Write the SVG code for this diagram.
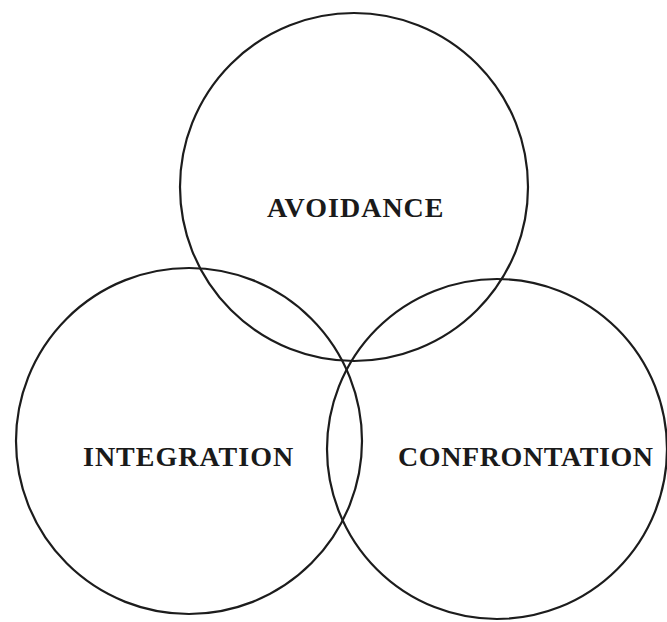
<svg xmlns="http://www.w3.org/2000/svg" width="667" height="622" viewBox="0 0 667 622">
  <style>
    .ring { fill: none; stroke: #1c1c1c; stroke-width: 2.2; }
    .label { font-family: "Liberation Serif", "Times New Roman", serif; font-weight: bold; font-size: 28px; letter-spacing: 1px; fill: #1a1a1a; text-anchor: start; }
  </style>
  <rect width="667" height="622" fill="#ffffff"/>
  <g id="avoidance">
    <circle class="ring" cx="354" cy="187" r="174"/>
    <text class="label" x="267" y="217">AVOIDANCE</text>
  </g>
  <g id="integration">
    <circle class="ring" cx="189" cy="441" r="173"/>
    <text class="label" x="83" y="466">INTEGRATION</text>
  </g>
  <g id="confrontation">
    <circle class="ring" cx="497" cy="449" r="170"/>
    <text class="label" x="398" y="466" style="letter-spacing:0.6px">CONFRONTATION</text>
  </g>
  <g id="connectors"/>
</svg>
